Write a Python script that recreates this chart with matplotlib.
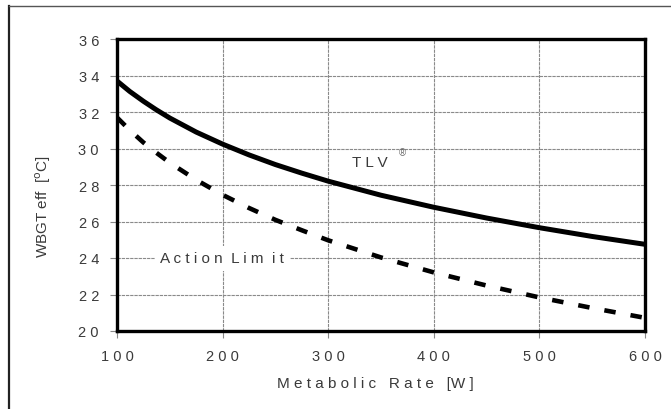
import matplotlib
matplotlib.use("Agg")
import matplotlib.pyplot as plt
from matplotlib.lines import Line2D

plt.rcParams['font.family'] = ['Liberation Sans', 'DejaVu Sans']

# values
rate = [100, 112, 125, 137, 150, 175, 200, 225, 250, 275, 300, 350, 400, 450, 500, 550, 600]
tlv = [33.7, 33.13, 32.59, 32.13, 31.67, 30.9, 30.24, 29.65, 29.12, 28.65, 28.21,
       27.44, 26.78, 26.19, 25.66, 25.18, 24.75]
action = [31.7, 31.01, 30.33, 29.78, 29.22, 28.28, 27.46, 26.74, 26.09, 25.52, 24.97,
          24.03, 23.21, 22.49, 21.84, 21.26, 20.72]

x_ticks = [100, 200, 300, 400, 500, 600]
y_ticks = [20, 22, 24, 26, 28, 30, 32, 34, 36]

txt = '#3a3a3a'

fig = plt.figure(figsize=(6.71, 4.10), dpi=100)
ax = fig.add_axes([117 / 671, 78 / 410, 528 / 671, 292 / 410])

# curves
ax.plot(rate, tlv, color='black', linewidth=3.6, solid_capstyle='butt',
        solid_joinstyle='round', zorder=3)
ax.plot(rate, action, color='black', linewidth=3.3, dashes=(2.5, 3.3),
        dash_capstyle='butt', zorder=3)

ax.set_xlim(100, 600)
ax.set_ylim(20, 36)
ax.set_xticks(x_ticks)
ax.set_yticks(y_ticks)
ax.set_xticklabels([' '.join(str(v)) for v in x_ticks])
ax.set_yticklabels([' '.join(str(v)) for v in y_ticks])
ax.tick_params(direction='out', length=5, width=0.8, color='#888888',
               labelsize=10.5, labelcolor=txt, pad=8)

ax.grid(True, color='#8a8a8a', linewidth=0.8, linestyle=(0, (3, 0.8)), zorder=1)
for s in ax.spines.values():
    s.set_linewidth(2.4)
    s.set_color('black')
    s.set_zorder(4)

# labels
ax.set_xlabel('M e t a b o l i c   R a t e   [W ]', fontsize=11, color=txt, labelpad=10)
ax.xaxis.set_label_coords(0.49, -0.155)
fig.text(43 / 671, 1 - 207 / 410, 'WBGT eff  [$^{\\rm o}$C]', rotation=90,
         fontsize=11, color=txt, ha='center', va='center')

ax.text(141, 24, 'A c t i o n  L i m  i t', fontsize=11, color=txt,
        va='center', ha='left', zorder=2,
        bbox=dict(facecolor='white', edgecolor='none', pad=4))
ax.text(323, 29.25, 'T L V', fontsize=11, color=txt, va='center', ha='left', zorder=2)
ax.text(367, 29.8, '®', fontsize=7, color='#666666', va='center', ha='left', zorder=2)

# scanned page border
fig.add_artist(Line2D([9 / 671, 9 / 671], [0, 1 - 7 / 410], color='#222222', linewidth=1.6))
fig.add_artist(Line2D([9 / 671, 1], [1 - 7 / 410, 1 - 7 / 410], color='#555555', linewidth=1.0))

fig.savefig('out.png', dpi=100)
